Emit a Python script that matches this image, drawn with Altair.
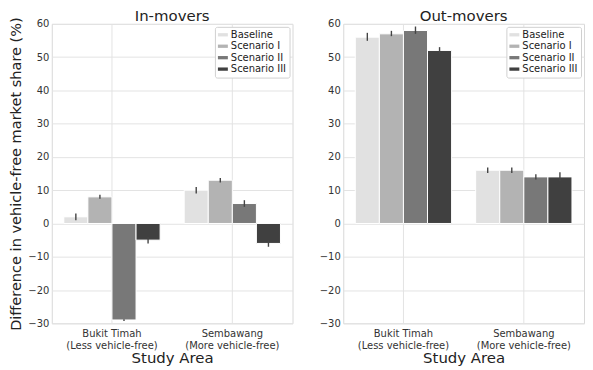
import altair as alt
import pandas as pd

areas = ["Bukit Timah|(Less vehicle-free)", "Sembawang|(More vehicle-free)"]
scenarios = ["Baseline", "Scenario I", "Scenario II", "Scenario III"]
colors = ["#e1e1e1", "#b3b3b3", "#787878", "#404040"]

# In-movers (per area: Baseline, I, II, III)
in_mean = [[2, 8, -29, -5], [10, 13, 6, -6]]
in_lo = [[1, 7.4, -29.3, -6], [9, 12.3, 5, -7]]
in_hi = [[3, 8.6, -28.8, -4], [11, 13.7, 7, -5]]

# Out-movers
out_mean = [[56, 57, 58, 52], [16, 16, 14, 14]]
out_lo = [[54.9, 56.3, 57, 51], [15.2, 15.2, 13.2, 12.8]]
out_hi = [[57.3, 57.9, 59.2, 53], [16.8, 16.8, 14.8, 15.4]]

y_ticks = [-30, -20, -10, 0, 10, 20, 30, 40, 50, 60]


def frame(mean, lo, hi):
    rows = []
    for i, a in enumerate(areas):
        for j, s in enumerate(scenarios):
            rows.append({"area": a, "scenario": s, "value": mean[i][j],
                         "lo": lo[i][j], "hi": hi[i][j]})
    return pd.DataFrame(rows)


FONT = "DejaVu Sans"
W, H = 242, 301


def panel(df, title, show_ytitle, toff):
    xaxis = alt.Axis(labelExpr="split(datum.label, '|')", labelAngle=0,
                     bandPosition=0.5, grid=True, ticks=False, domain=False,
                     labelPadding=5, titlePadding=0, labelFontSize=10,
                     labelLineHeight=12, titleFontSize=15)
    xscale = alt.Scale(paddingInner=0.2, paddingOuter=0.1)
    xo = alt.XOffset("scenario:N", sort=scenarios,
                     scale=alt.Scale(paddingInner=0, paddingOuter=0))
    yaxis = alt.Axis(values=y_ticks, ticks=False, domain=False, labelOverlap=False,
                     labelPadding=3, titlePadding=4, labelFontSize=10,
                     titleFontSize=14.6)
    yscale = alt.Scale(domain=[-30, 60], nice=False)
    ytitle = "Difference in vehicle-free market share (%)" if show_ytitle else None
    bars = alt.Chart(df).mark_bar(stroke="white", strokeWidth=1).encode(
        x=alt.X("area:N", sort=areas, title="Study Area", scale=xscale, axis=xaxis),
        xOffset=xo,
        y=alt.Y("value:Q", title=ytitle, scale=yscale, axis=yaxis),
        color=alt.Color("scenario:N", sort=scenarios,
                        scale=alt.Scale(domain=scenarios, range=colors),
                        legend=alt.Legend(title=None, orient="top-right", offset=3,
                                          symbolType="M-1,-0.33L1,-0.33L1,0.33L-1,0.33Z",
                                          symbolSize=100, symbolStrokeWidth=0,
                                          labelFontSize=10, rowPadding=1.5,
                                          padding=3, strokeColor="#d0d0d0",
                                          fillColor="white", cornerRadius=2,
                                          labelOffset=3)),
    )
    err = alt.Chart(df).mark_rule(color="#444444", strokeWidth=1.4).encode(
        x=alt.X("area:N", sort=areas, title="Study Area", scale=xscale, axis=xaxis),
        xOffset=xo,
        y=alt.Y("lo:Q", title=ytitle, scale=yscale, axis=yaxis),
        y2="hi:Q",
    )
    return alt.layer(bars, err).properties(
        width=W, height=H,
        title=alt.TitleParams(title, fontSize=15, fontWeight="normal", offset=toff,
                              frame="group", font=FONT, color="#222222"),
    )


left = panel(frame(in_mean, in_lo, in_hi), "In-movers", True, -7)
right = panel(frame(out_mean, out_lo, out_hi), "Out-movers", False, -5)

chart = alt.hconcat(left, right, spacing=25).resolve_scale(
    color="independent").resolve_legend(color="independent").properties(
    padding={"left": 0, "top": -1, "right": 0, "bottom": 0}
).configure(font=FONT).configure_axis(
    labelColor="#333333", titleColor="#222222", gridColor="#e3e3e3",
    labelFont=FONT, titleFont=FONT, titleFontWeight="normal",
).configure_view(stroke="#d8d8d8").configure_legend(labelColor="#222222")

chart.save("out.html", embed_options={"renderer": "svg", "actions": False})
